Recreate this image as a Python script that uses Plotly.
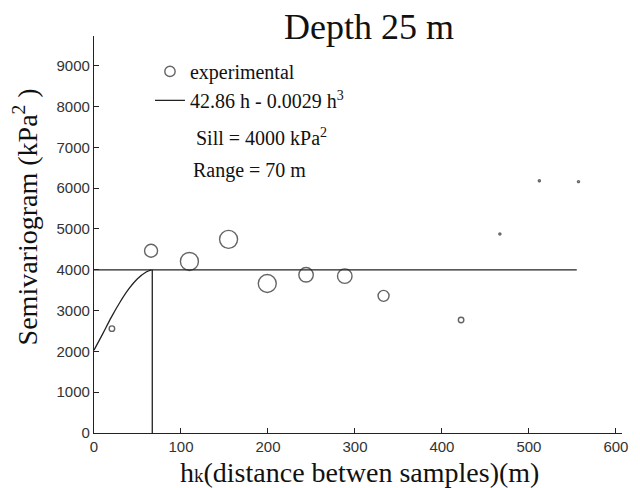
import plotly.graph_objects as go

# experimental semivariogram (lag distance h in m, gamma in kPa^2)
lag_h = [20.6, 65.6, 109.7, 154.7, 199.2, 243.8, 288.3, 332.9, 422.0, 466.6, 512.0, 557.0]
gamma = [2557, 4467, 4205, 4746, 3664, 3877, 3844, 3361, 2770, 4877, 6184, 6160]
point_size = [5.5, 13, 18, 18, 18, 14.5, 14.5, 11, 5.5, 2, 2, 2]

# fitted model
model_h = [0, 10, 20, 30, 40, 50, 60, 66]
model_gamma = [2030, 2430, 2840, 3210, 3530, 3780, 3945, 4000]
sill_h = [0, 555]
sill_val = [4000, 4000]
range_h = [67, 67]
range_val = [0, 4000]

x_ticks = [0, 100, 200, 300, 400, 500, 600]
y_ticks = [0, 1000, 2000, 3000, 4000, 5000, 6000, 7000, 8000, 9000]

SERIF = "Liberation Serif, Times New Roman, serif"
SANS = "Liberation Sans, Arial, sans-serif"
INK = "#222222"

# the page body adds an 8px offset; figure is sized to fill the rest of the window
W, H = 632, 480

fig = go.Figure()
fig.add_trace(go.Scatter(
    x=lag_h, y=gamma, mode="markers", name="experimental",
    marker=dict(symbol="circle-open", size=point_size, color=INK,
                line=dict(color=INK, width=1.4)),
))
fig.add_trace(go.Scatter(
    x=model_h, y=model_gamma, mode="lines", name="42.86 h - 0.0029 h<sup>3</sup>",
    line=dict(color=INK, width=1.3, shape="spline"),
))
fig.add_trace(go.Scatter(
    x=sill_h, y=sill_val, mode="lines", showlegend=False,
    line=dict(color=INK, width=1.3),
))
fig.add_trace(go.Scatter(
    x=range_h, y=range_val, mode="lines", showlegend=False,
    line=dict(color=INK, width=1.3),
))

axis_common = dict(
    showgrid=False, zeroline=False, showline=True, linecolor=INK, linewidth=1.3,
    ticks="inside", ticklen=5, tickcolor=INK, tickwidth=1,
    tickfont=dict(family=SANS, size=15, color="#333333"),
)

fig.update_layout(
    width=W, height=H,
    margin=dict(l=86, r=18, t=28, b=55),
    paper_bgcolor="white", plot_bgcolor="white",
    title=dict(text="Depth 25 m", font=dict(family=SERIF, size=36, color="#111111"),
               xref="container", x=361 / W, xanchor="center",
               yref="container", y=1 - 18 / H, yanchor="middle"),
    xaxis=dict(range=[0, 607], tickvals=x_ticks, **axis_common),
    yaxis=dict(range=[0, 9730], tickvals=y_ticks, **axis_common),
    showlegend=True,
    legend=dict(x=0.106, xanchor="left", y=0.96, yanchor="top",
                bgcolor="rgba(0,0,0,0)", borderwidth=0,
                font=dict(family=SERIF, size=20, color="#111111"),
                tracegroupgap=0),
    annotations=[
        dict(text="Sill = 4000 kPa<sup>2</sup>", xref="paper", yref="paper",
             x=0.189, y=0.746, xanchor="left", yanchor="middle", showarrow=False,
             font=dict(family=SERIF, size=20, color="#111111")),
        dict(text="Range = 70 m", xref="paper", yref="paper",
             x=0.184, y=0.662, xanchor="left", yanchor="middle", showarrow=False,
             font=dict(family=SERIF, size=20, color="#111111")),
        dict(text="h<span style='font-size:19px'>k</span>(distance betwen samples)(m)",
             xref="paper", yref="paper", x=0.503, y=-0.1, xanchor="center", yanchor="middle",
             showarrow=False, font=dict(family=SERIF, size=28, color="#111111")),
        dict(text="Semivariogram (kPa<sup>2</sup> )", xref="paper", yref="paper",
             x=-0.13, y=0.544, xanchor="center", yanchor="middle", textangle=-90,
             showarrow=False, font=dict(family=SERIF, size=28, color="#111111")),
    ],
)

fig.write_html("out.html")
